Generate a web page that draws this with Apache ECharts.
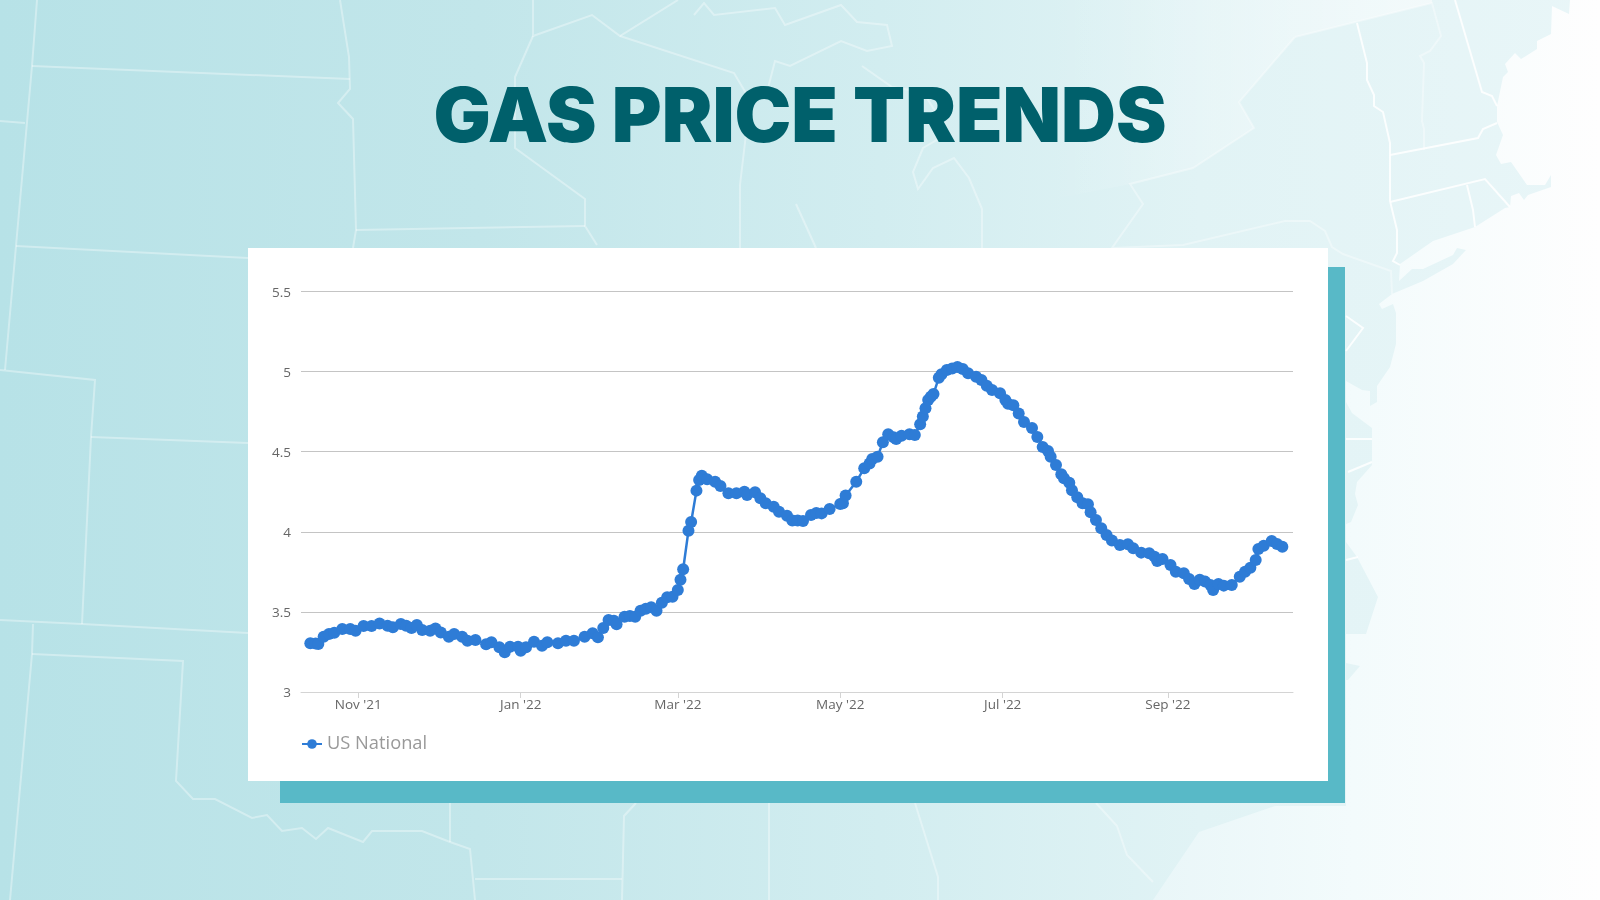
<!DOCTYPE html>
<html>
<head>
<meta charset="utf-8">
<title>Gas Price Trends</title>
<script src="https://cdn.jsdelivr.net/npm/echarts@6/dist/echarts.min.js"></script>
<style>
    html, body { margin: 0; padding: 0; width: 1600px; height: 900px; overflow: hidden; background: #fff; }
    #map { position: absolute; left: 0; top: 0; width: 1600px; height: 900px; }
    #shadow { position: absolute; left: 280px; top: 267px; width: 1065px; height: 536px; background: #58b9c7; }
    #panel { position: absolute; left: 248px; top: 248px; width: 1080px; height: 533px; background: #fff; }
    #chart { position: absolute; left: 0; top: 0; width: 1600px; height: 900px; }
</style>
</head>
<body>
<!-- 背景地图，只是装饰 -->
<svg id="map" viewBox="0 0 1600 900">
    <defs>
        <linearGradient id="land" gradientUnits="userSpaceOnUse" x1="0" y1="0" x2="1600" y2="0">
            <stop offset="0" stop-color="#b7e2e7"/>
            <stop offset="0.3" stop-color="#c2e6ea"/>
            <stop offset="0.55" stop-color="#d2edf0"/>
            <stop offset="0.75" stop-color="#e1f3f5"/>
            <stop offset="1" stop-color="#e9f6f8"/>
        </linearGradient>
        <linearGradient id="sea" gradientUnits="userSpaceOnUse" x1="1150" y1="0" x2="1600" y2="0">
            <stop offset="0" stop-color="#e9f6f8"/>
            <stop offset="0.45" stop-color="#f3fbfc"/>
            <stop offset="1" stop-color="#fefefe"/>
        </linearGradient>
        <linearGradient id="lake" gradientUnits="userSpaceOnUse" x1="1050" y1="0" x2="1400" y2="0">
            <stop offset="0" stop-color="#fff" stop-opacity="0"/>
            <stop offset="1" stop-color="#fff" stop-opacity="0.5"/>
        </linearGradient>
    </defs>
    <rect width="1600" height="900" fill="url(#land)"/>
    <polygon fill="url(#lake)" points="1050,0 1432,0 1432,3 1295,37 1239,102 1254,128 1193,168 1130,184 1050,200"/>
    <polygon fill="url(#sea)" points="1570,0 1569,14 1552,6 1551,34 1537,41 1537,49 1521,59 1515,53 1505,64 1508,72 1503,77 1497,106 1497,122 1503,135 1496,155 1501,164 1511,162 1527,185 1545,185 1551,175 1551,187 1528,195 1524,200 1519,193 1511,196 1510,207 1505,208 1475,227 1433,241 1400,264 1399,281 1412,269 1423,269 1453,255 1457,248 1466,250 1453,264 1423,281 1392,294 1379,304 1382,309 1393,304 1396,313 1396,344 1390,367 1377,386 1377,402 1370,406 1370,391 1362,390 1346,381 1346,402 1352,413 1372,428 1372,465 1357,482 1355,494 1358,505 1351,522 1346,524 1346,542 1357,557 1378,597 1366,634 1346,634 1346,663 1360,666 1348,680 1346,680 1346,806 1275,806 1199,832 1153,900 1600,900 1600,0"/>
    <g fill="none" stroke="#fff" stroke-opacity="0.35" stroke-width="2">
        <polyline points="37,0 32,66 16,246 5,370"/>
        <polyline points="32,66 350,79"/>
        <polyline points="0,121 25,123"/>
        <polyline points="340,0 349,57 350,89 338,103 353,119 356,230 353,248"/>
        <polyline points="16,246 248,258"/>
        <polyline points="356,230 585,226"/>
        <polyline points="0,370 95,380 91,437 82,624"/>
        <polyline points="91,437 248,443"/>
        <polyline points="0,620 82,624 248,633"/>
        <polyline points="33,624 32,654 10,900"/>
        <polyline points="32,654 183,661 176,781 193,799 215,799 252,818 267,815 282,831 302,828 316,839 328,828 363,842 372,831 422,831 450,842 470,849 475,900"/>
        <polyline points="450,803 450,842"/>
        <polyline points="475,879 622,879"/>
        <polyline points="622,900 624,816 636,803"/>
        <polyline points="769,803 769,900"/>
        <polyline points="915,803 938,877 938,900"/>
        <polyline points="1096,803 1117,826 1127,855 1153,882"/>
        <polyline points="533,0 533,36 592,15 620,36 678,0"/>
        <polyline points="533,36 515,77 515,148 585,199 585,226 597,245"/>
        <polyline points="620,36 734,73 750,100 740,185 740,248"/>
        <polyline points="796,204 816,248"/>
        <polyline points="694,15 704,3 714,15 775,8 785,25 841,5 857,22 887,25 892,46 867,51 841,41 790,66 775,61 767,92 750,100"/>
        <polyline points="862,66 892,87 923,92 949,133 923,148 913,172 918,189 933,168 954,158 969,178 982,209 982,248"/>
        <polyline points="1295,37 1239,102 1254,128 1193,168 1130,184 1143,204 1112,248 1183,245 1285,221 1310,221 1325,231 1332,247 1343,254 1391,271 1392,294"/>
        <polyline points="1295,37 1432,3 1441,36 1430,51 1420,56 1424,63 1422,121 1424,129 1424,150"/>
    </g>
    <g fill="none" stroke="#fff" stroke-opacity="0.85" stroke-width="2">
        <polyline points="1357,23 1367,63 1367,80 1374,95 1374,106 1383,112 1390,143 1390,201 1397,230 1397,253 1393,261 1400,265"/>
        <polyline points="1455,0 1482,92 1492,96 1497,106"/>
        <polyline points="1390,155 1478,138 1483,129 1497,123"/>
        <polyline points="1390,202 1485,179 1510,207"/>
        <polyline points="1467,185 1473,210 1475,227"/>
        <polyline points="1346,316 1363,328 1346,351"/>
        <polyline points="1346,439 1372,439"/>
        <polyline points="1348,472 1372,462"/>
        <polyline points="1346,560 1358,557"/>
    </g>
</svg>
<div id="shadow"></div>
<div id="panel"></div>
<div id="chart"></div>
<script>
// 横轴刻度
const tickDates = ['2021-11-01', '2022-01-01', '2022-03-01', '2022-05-01', '2022-07-01', '2022-09-01'];
const tickLabels = ["Nov '21", "Jan '22", "Mar '22", "May '22", "Jul '22", "Sep '22"];

// 从图上读出来的日期和油价
const priceDates = [
    '2021-10-14', '2021-10-16', '2021-10-17', '2021-10-19', '2021-10-21', '2021-10-23', '2021-10-26', '2021-10-29', '2021-10-31',
    '2021-11-03', '2021-11-06', '2021-11-09', '2021-11-12', '2021-11-14', '2021-11-17', '2021-11-19', '2021-11-21', '2021-11-23', '2021-11-25', '2021-11-28', '2021-11-30',
    '2021-12-02', '2021-12-05', '2021-12-07', '2021-12-10', '2021-12-12', '2021-12-15', '2021-12-19', '2021-12-21', '2021-12-24', '2021-12-26', '2021-12-28', '2021-12-31',
    '2022-01-01', '2022-01-03', '2022-01-06', '2022-01-09', '2022-01-11', '2022-01-15', '2022-01-18', '2022-01-21', '2022-01-25', '2022-01-28', '2022-01-30',
    '2022-02-01', '2022-02-03', '2022-02-05', '2022-02-06', '2022-02-09', '2022-02-11', '2022-02-13', '2022-02-15', '2022-02-17', '2022-02-19', '2022-02-21', '2022-02-23', '2022-02-25', '2022-02-27',
    '2022-03-01', '2022-03-02', '2022-03-03', '2022-03-05', '2022-03-06', '2022-03-08', '2022-03-09', '2022-03-10', '2022-03-12', '2022-03-15', '2022-03-17', '2022-03-20', '2022-03-23', '2022-03-26', '2022-03-27', '2022-03-30',
    '2022-04-01', '2022-04-03', '2022-04-06', '2022-04-08', '2022-04-11', '2022-04-13', '2022-04-15', '2022-04-17', '2022-04-20', '2022-04-22', '2022-04-24', '2022-04-27',
    '2022-05-01', '2022-05-02', '2022-05-03', '2022-05-07', '2022-05-10', '2022-05-12', '2022-05-13', '2022-05-15', '2022-05-17', '2022-05-19', '2022-05-21', '2022-05-22', '2022-05-24', '2022-05-27', '2022-05-29', '2022-05-31',
    '2022-06-01', '2022-06-02', '2022-06-03', '2022-06-04', '2022-06-05', '2022-06-07', '2022-06-08', '2022-06-10', '2022-06-12', '2022-06-14', '2022-06-16', '2022-06-18', '2022-06-21', '2022-06-23', '2022-06-25', '2022-06-27', '2022-06-30',
    '2022-07-02', '2022-07-03', '2022-07-05', '2022-07-07', '2022-07-09', '2022-07-12', '2022-07-14', '2022-07-16', '2022-07-18', '2022-07-19', '2022-07-21', '2022-07-23', '2022-07-24', '2022-07-26', '2022-07-27', '2022-07-29', '2022-07-31',
    '2022-08-02', '2022-08-03', '2022-08-05', '2022-08-07', '2022-08-09', '2022-08-11', '2022-08-14', '2022-08-17', '2022-08-19', '2022-08-22', '2022-08-25', '2022-08-27', '2022-08-28', '2022-08-30',
    '2022-09-02', '2022-09-04', '2022-09-07', '2022-09-09', '2022-09-11', '2022-09-13', '2022-09-15', '2022-09-17', '2022-09-18', '2022-09-20', '2022-09-22', '2022-09-25', '2022-09-28', '2022-09-30',
    '2022-10-02', '2022-10-04', '2022-10-05', '2022-10-07', '2022-10-10', '2022-10-12', '2022-10-14'
];
const usNational = [
    3.304, 3.302, 3.30, 3.345, 3.362, 3.37, 3.393, 3.393, 3.383,
    3.412, 3.412, 3.428, 3.414, 3.404, 3.424, 3.414, 3.40, 3.418, 3.387, 3.383, 3.397,
    3.372, 3.345, 3.362, 3.345, 3.32, 3.325, 3.298, 3.31, 3.279, 3.248, 3.283, 3.283,
    3.258, 3.279, 3.314, 3.289, 3.31, 3.304, 3.32, 3.32, 3.345, 3.366, 3.341,
    3.40, 3.449, 3.445, 3.423, 3.47, 3.474, 3.47, 3.507, 3.52, 3.529, 3.507, 3.557, 3.591, 3.595,
    3.637, 3.70, 3.766, 4.007, 4.061, 4.257, 4.323, 4.35, 4.328, 4.313, 4.286, 4.24, 4.24, 4.25, 4.23, 4.247,
    4.21, 4.178, 4.157, 4.125, 4.10, 4.07, 4.07, 4.067, 4.105, 4.117, 4.115, 4.142,
    4.173, 4.178, 4.226, 4.313, 4.396, 4.427, 4.454, 4.469, 4.559, 4.609, 4.59, 4.58, 4.60, 4.609, 4.604, 4.671,
    4.719, 4.771, 4.823, 4.843, 4.86, 4.962, 4.983, 5.01, 5.02, 5.028, 5.016, 4.989, 4.968, 4.948, 4.912, 4.885, 4.865,
    4.823, 4.80, 4.79, 4.738, 4.685, 4.648, 4.592, 4.53, 4.504, 4.469, 4.417, 4.359, 4.334, 4.306, 4.26, 4.215, 4.178,
    4.172, 4.122, 4.074, 4.022, 3.98, 3.945, 3.918, 3.922, 3.897, 3.87, 3.866, 3.845, 3.818, 3.83,
    3.793, 3.751, 3.741, 3.705, 3.674, 3.70, 3.689, 3.668, 3.637, 3.674, 3.664, 3.668, 3.72, 3.751,
    3.776, 3.824, 3.893, 3.913, 3.943, 3.924, 3.907
];

const chart = echarts.init(document.getElementById('chart'));

// 时间轴的 customValues 会报错，这里用数值轴放时间戳
const toTime = d => +new Date(d + 'T00:00:00');
const tickTimes = tickDates.map(toTime);

const option = {
    animation: false,
    backgroundColor: 'transparent',
    title: {
        text: 'GAS PRICE TRENDS',
        left: 'center',
        top: 76,
        textStyle: { fontFamily: 'Inter', fontWeight: 900, fontSize: 76, color: '#00606b' }
    },
    legend: {
        left: 296,
        top: 730,
        itemWidth: 20,
        itemHeight: 12,
        itemGap: 0,
        textStyle: { fontFamily: 'Open Sans', fontSize: 18.3, color: '#999999' }
    },
    grid: { left: 301, right: 307, top: 291.5, bottom: 208 },
    xAxis: {
        type: 'value',
        min: toTime('2021-10-10') + 12 * 3600 * 1000,
        max: toTime('2022-10-18'),
        splitLine: { show: false },
        axisLine: { lineStyle: { color: '#d4d4d4', width: 1 } },
        axisTick: {
            show: true, length: 6,
            customValues: tickTimes,
            lineStyle: { color: '#d4d4d4' }
        },
        axisLabel: {
            customValues: tickTimes,
            formatter: value => tickLabels[tickTimes.indexOf(value)],
            fontFamily: 'Open Sans', fontSize: 13.5, color: '#666666', margin: 6
        }
    },
    yAxis: {
        type: 'value',
        min: 3,
        max: 5.5,
        interval: 0.5,
        axisLine: { show: false },
        axisTick: { show: false },
        splitLine: { lineStyle: { color: '#c4c4c4', width: 1 } },
        axisLabel: {
            margin: 10,
            formatter: '{v|{value}}',
            rich: { v: { fontFamily: 'Open Sans', fontSize: 13.5, color: '#666666', padding: [3, 0, 0, 0] } }
        }
    },
    series: [{
        name: 'US National',
        type: 'line',
        data: priceDates.map((d, i) => [toTime(d), usNational[i]]),
        symbol: 'circle',
        symbolSize: 12,
        showAllSymbol: true,
        lineStyle: { width: 2.5, color: '#2e7cd6' },
        itemStyle: { color: '#2e7cd6' }
    }]
};
chart.setOption(option);
</script>
</body>
</html>
